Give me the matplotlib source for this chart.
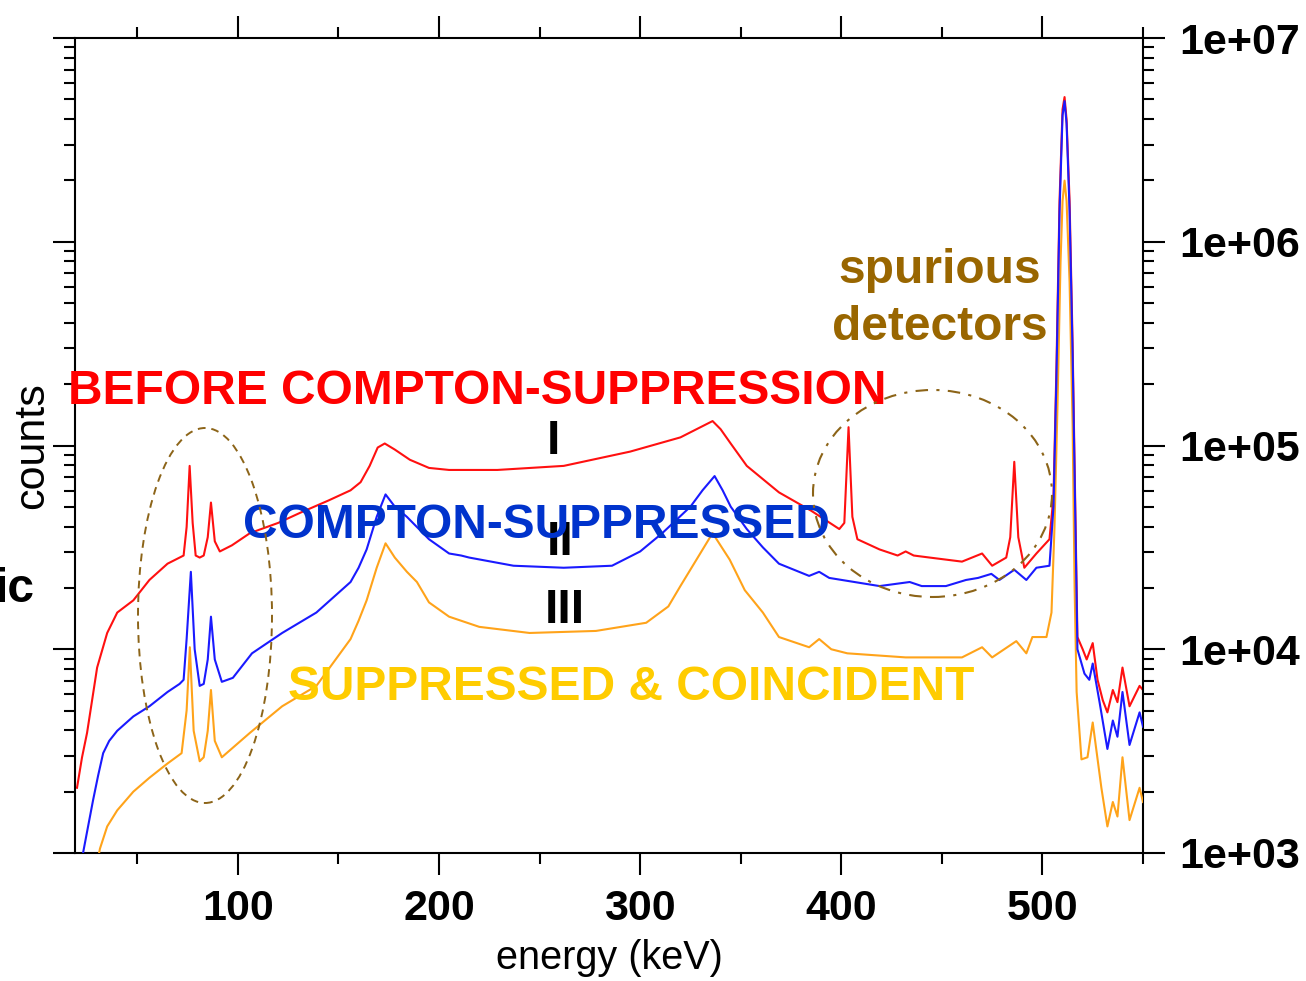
#!/usr/bin/env python3
import matplotlib
matplotlib.use('Agg')
import matplotlib.pyplot as plt
from matplotlib.patches import Ellipse
from matplotlib.ticker import MultipleLocator, FuncFormatter, NullFormatter

# spectrum before Compton suppression (red)
redEnergy = [20, 22.5, 25, 27.5, 30, 35, 40, 48, 56, 65, 71, 73, 74.5, 76, 77.5, 79, 81, 83, 85, 86.6,
             88.5, 91, 97, 106, 120, 131, 145, 156, 161, 165.5, 169.5, 173, 178, 185.5, 195, 205, 229,
             262, 295, 320, 330, 336, 340, 345, 353, 369, 385, 399, 401.5, 403.6, 405.5, 408, 419, 428,
             432, 436, 444, 460, 470, 475, 482, 484, 486, 488, 491, 497, 503.5, 505.5, 507, 508.5, 510,
             511, 512, 513.5, 515, 516.5, 517.4, 520, 522, 525, 527.4, 530, 532.3, 535, 537.3, 539.8,
             543.3, 548.3, 550]
redCounts = [2090, 2950, 3890, 5620, 8130, 12020, 15140, 17380, 21880, 26300, 28180, 28840, 39810,
             79430, 41690, 28840, 28180, 28840, 35480, 52480, 33880, 30200, 32360, 37150, 41690, 46770,
             53700, 60260, 66070, 79430, 97720, 102300, 95500, 85110, 77620, 75860, 75860, 79430, 93330,
             109600, 123000, 131800, 120200, 102300, 79430, 58880, 47860, 38900, 41690, 123000, 44670,
             34670, 30900, 28840, 30200, 28840, 28180, 26920, 29510, 25700, 28180, 35480, 83180, 35480,
             25120, 29510, 34670, 56230, 251200, 1585000, 4467000, 5129000, 3981000, 1585000, 316200,
             39810, 11480, 10000, 8910, 10720, 7080, 5620, 4900, 6310, 5500, 8130, 5250, 6610, 6310]

# Compton-suppressed spectrum (blue)
blueEnergy = [22, 23, 25.5, 28, 30.5, 33, 36, 40, 48, 56, 65, 71, 73, 74.5, 76.6, 78.5, 81, 83, 85,
              86.6, 88.5, 92, 97.5, 107, 122, 139, 156, 160, 164, 169, 173.4, 178, 184, 189, 195, 205,
              211, 215, 237, 262, 286, 300, 311, 325, 331, 337, 341, 345, 353, 361, 369, 384, 389, 394,
              419, 434, 440, 452, 462, 468, 474.6, 478.6, 486, 492, 497, 503.5, 505.5, 507, 508.5, 510,
              511, 512, 513.5, 515, 516.5, 517.4, 520.9, 523.3, 525, 528.4, 532.3, 535, 537.3, 539.8,
              543.3, 548.3, 550]
blueCounts = [759, 1000, 1350, 1820, 2400, 3090, 3550, 3980, 4680, 5250, 6170, 6760, 7080, 11220,
              23990, 10000, 6610, 6760, 8910, 14450, 8910, 6920, 7240, 9550, 12020, 15140, 21380,
              25120, 30900, 44670, 57540, 50120, 44670, 39810, 34670, 29510, 28840, 28180, 25700,
              25120, 25700, 30200, 37150, 50120, 60260, 70790, 60260, 50120, 38900, 31620, 26300,
              22910, 23990, 22390, 20420, 21380, 20420, 20420, 21880, 22390, 23440, 21880, 24550,
              21880, 25120, 25700, 50120, 223900, 1413000, 4169000, 4898000, 3802000, 1413000, 281800,
              35480, 10000, 7590, 7080, 8510, 5500, 3240, 4470, 3720, 6170, 3390, 4900, 4170]

# suppressed and coincident spectrum (orange)
orangeEnergy = [30, 31.4, 35, 40, 48, 56, 65, 72, 74.5, 76.1, 78, 81, 83, 85, 86.6, 88.5, 92, 106,
                122, 139, 156, 160, 164, 169, 173.4, 178, 184, 189, 195, 205, 220, 245, 278, 303, 314,
                320, 328, 336, 344.5, 352, 361, 369, 384, 389, 395, 403, 432, 460, 470, 475, 487, 492,
                495, 502, 504.5, 506, 507.5, 509, 510, 511, 512, 513.5, 515, 516, 517, 519.4, 522.4,
                525, 529.3, 532.3, 535, 537.3, 539.8, 543.3, 548.3, 550]
orangeCounts = [890, 1050, 1350, 1620, 2000, 2340, 2750, 3090, 5010, 10230, 3980, 2820, 2950, 3980,
                6310, 3550, 2950, 3890, 5250, 6610, 11220, 13800, 17380, 25120, 33110, 28180, 24000,
                21380, 16980, 14450, 12880, 12020, 12300, 13490, 16220, 20420, 27540, 37150, 27540,
                19500, 15140, 11480, 10230, 11220, 10000, 9550, 9120, 9120, 10230, 9120, 10960, 9550,
                11480, 11480, 15140, 39810, 158500, 794300, 1585000, 1995000, 1585000, 631000, 125900,
                19950, 6170, 2880, 2950, 4370, 2090, 1350, 1780, 1510, 2950, 1450, 2090, 1780]

yTicks = [1e3, 1e4, 1e5, 1e6, 1e7]

W, H = 1306, 981
AX_L, AX_R, AX_T, AX_B = 75, 1143, 38, 853

plt.rcParams['font.family'] = ['Liberation Sans', 'DejaVu Sans']
plt.rcParams['font.weight'] = 'bold'

BROWN = '#996600'


def frac(x, y):
    # pixel position in the picture -> axes fraction
    return ((x - AX_L) / (AX_R - AX_L), (AX_B - y) / (AX_B - AX_T))


def label(ax, x, y, s, color, ha='left', size=34.5):
    ax.text(*frac(x, y), s, transform=ax.transAxes, color=color, ha=ha, va='baseline',
            fontsize=size, fontweight='bold', clip_on=False, zorder=5)


def main():
    fig = plt.figure(figsize=(W / 100, H / 100), dpi=100)
    ax = fig.add_axes([AX_L / W, (H - AX_B) / H, (AX_R - AX_L) / W, (AX_B - AX_T) / H])

    ax.semilogy(redEnergy, redCounts, color='#ff1010', lw=1.5, zorder=2)
    ax.semilogy(orangeEnergy, orangeCounts, color='#ffa31a', lw=1.5, zorder=3)
    ax.semilogy(blueEnergy, blueCounts, color='#1a1aff', lw=1.5, zorder=4)

    ax.set_xlim(19, 550)
    ax.set_ylim(1e3, 1e7)

    ax.xaxis.set_major_locator(MultipleLocator(100))
    ax.xaxis.set_minor_locator(MultipleLocator(50))
    ax.set_yticks(yTicks)
    ax.yaxis.set_major_formatter(FuncFormatter(lambda v, _: f'{v:.0e}'))
    ax.yaxis.set_minor_formatter(NullFormatter())

    ax.tick_params(axis='both', which='both', direction='out', width=1.5, color='black',
                   top=True, bottom=True, left=True, right=True,
                   labeltop=False, labelleft=False, labelright=True, labelsize=31)
    ax.tick_params(which='major', length=16)
    ax.tick_params(which='minor', length=8)
    ax.tick_params(axis='x', pad=10)
    ax.tick_params(axis='y', pad=10)
    for s in ax.spines.values():
        s.set_linewidth(1.5)

    ax.set_xlabel('energy (keV)', fontsize=28.5, fontweight='normal')
    ax.xaxis.set_label_coords(0.5, frac(0, 939)[1], transform=ax.transAxes)
    ax.xaxis.label.set_va('top')
    ax.set_ylabel('counts', fontsize=31, fontweight='normal')
    ax.yaxis.set_label_coords(frac(52, 0)[0], 0.5)

    # circled regions
    ax.add_patch(Ellipse(frac(205, 615.5), 134 / 1068, 375 / 815, transform=ax.transAxes,
                         fill=False, edgecolor='#8c6418', lw=1.4, linestyle=(0, (4, 3)), zorder=6))
    ax.add_patch(Ellipse(frac(932.5, 493.5), 239 / 1068, 207 / 815, transform=ax.transAxes,
                         fill=False, edgecolor='#8c6418', lw=1.5, linestyle=(0, (6, 4, 1.5, 4)),
                         zorder=6))

    label(ax, 68, 404, 'BEFORE COMPTON-SUPPRESSION', '#ff0000')
    label(ax, 553, 454, 'I', 'black', ha='center')
    label(ax, 560, 555, 'II', 'black', ha='center')
    label(ax, 565, 623, 'III', 'black', ha='center')
    label(ax, 243, 538, 'COMPTON-SUPPRESSED', '#0033cc')
    label(ax, 288, 700, 'SUPPRESSED & COINCIDENT', '#ffcc00')
    label(ax, 940, 283, 'spurious', BROWN, ha='center')
    label(ax, 940, 340, 'detectors', BROWN, ha='center')

    fig.text(35 / W, 1 - 602 / H, 'ic', ha='right', va='baseline', fontsize=34.5,
             fontweight='bold')

    fig.savefig('out.png', dpi=100)
    return 0


if __name__ == '__main__':
    main()
